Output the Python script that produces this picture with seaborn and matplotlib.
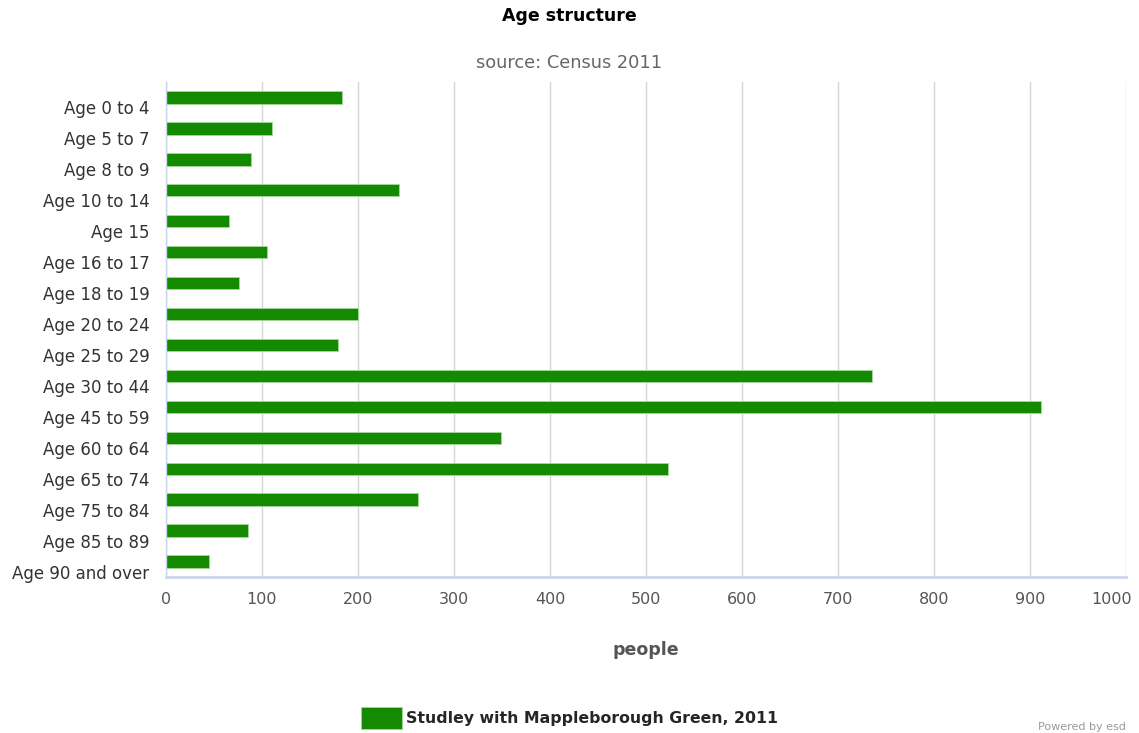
import matplotlib
matplotlib.use("Agg")
import matplotlib.pyplot as plt
import matplotlib.transforms as mtransforms
from matplotlib.patches import Patch
import seaborn as sns
import pandas as pd
import numpy as np

categories = ["Age 0 to 4", "Age 5 to 7", "Age 8 to 9", "Age 10 to 14", "Age 15",
              "Age 16 to 17", "Age 18 to 19", "Age 20 to 24", "Age 25 to 29",
              "Age 30 to 44", "Age 45 to 59", "Age 60 to 64", "Age 65 to 74",
              "Age 75 to 84", "Age 85 to 89", "Age 90 and over"]
values = [183, 110, 89, 243, 66, 105, 76, 200, 179, 735, 911, 349, 523, 263, 85, 45]
x_ticks = [0, 100, 200, 300, 400, 500, 600, 700, 800, 900, 1000]
series_name = "Studley with Mappleborough Green, 2011"

sns.set_theme(style="white")
plt.rcParams['font.family'] = ['DejaVu Sans']

df = pd.DataFrame({"category": categories, "people": values})

W, H = 1139, 733
fig = plt.figure(figsize=(W / 100, H / 100), dpi=100)
left, right, top, bottom = 166, 1126, 82, 577
ax = fig.add_axes([left / W, 1 - bottom / H, (right - left) / W, (bottom - top) / H])

green = "#138a00"
sns.barplot(data=df, x="people", y="category", orient="h", color=green,
            width=0.4, ax=ax, edgecolor="#a8d8a0", linewidth=0.6, saturation=1)

ax.set_xlim(0, 1000)
ax.set_ylim(len(categories) - 0.5, -0.5)
ax.set_xticks(x_ticks)
ax.set_xticklabels([str(t) for t in x_ticks], color="#555555", fontsize=11.5)
ax.tick_params(axis="x", length=0, pad=11)
# keep the last label inside the figure, as in the reference
last = ax.get_xticklabels()[-1]
last.set_transform(last.get_transform() +
                   mtransforms.ScaledTranslation(-14 / 100, 0, fig.dpi_scale_trans))

ax.xaxis.grid(True, color="#d4d4d4", linewidth=1)
ax.set_axisbelow(True)

for s in ["top", "right"]:
    ax.spines[s].set_visible(False)
ax.spines["bottom"].set_color("#ccd6eb")
ax.spines["bottom"].set_linewidth(2)
ax.spines["left"].set_color("#ccd6eb")
ax.spines["left"].set_linewidth(1)

# y ticks: labels at centers, marks at band boundaries
ax.set_yticks(range(len(categories)))
ax.set_yticklabels(categories, color="#333333", fontsize=12)
ax.tick_params(axis="y", which="major", length=0, pad=12)
ax.set_yticks(np.arange(-0.5, len(categories), 1.0), minor=True)
ax.tick_params(axis="y", which="minor", length=7.5, color="#ccd6eb", width=1)
offset = mtransforms.ScaledTranslation(0, -10 / 100, fig.dpi_scale_trans)
for lab in ax.get_yticklabels():
    lab.set_transform(lab.get_transform() + offset)

ax.set_xlabel("people", fontsize=12.5, fontweight="bold", color="#555555", labelpad=24)
ax.set_ylabel("")

fig.text(0.5, 1 - 16 / H, "Age structure", ha="center", va="center",
         fontsize=12.5, fontweight="bold", color="#000000")
fig.text(0.5, 1 - 63 / H, "source: Census 2011", ha="center", va="center",
         fontsize=12.8, color="#666666")

handle = Patch(facecolor=green, edgecolor="#a8d8a0", linewidth=0.6)
fig.legend([handle], [series_name], loc="center", bbox_to_anchor=(0.5, 1 - 718 / H),
           frameon=False, prop={"weight": "bold", "size": 11.3},
           handlelength=2.6, handleheight=1.7, handletextpad=0.3)

fig.text(1126 / W, 1 - 727 / H, "Powered by esd", ha="right", va="center",
         fontsize=8, color="#999999")

fig.savefig("out.png", dpi=100)
